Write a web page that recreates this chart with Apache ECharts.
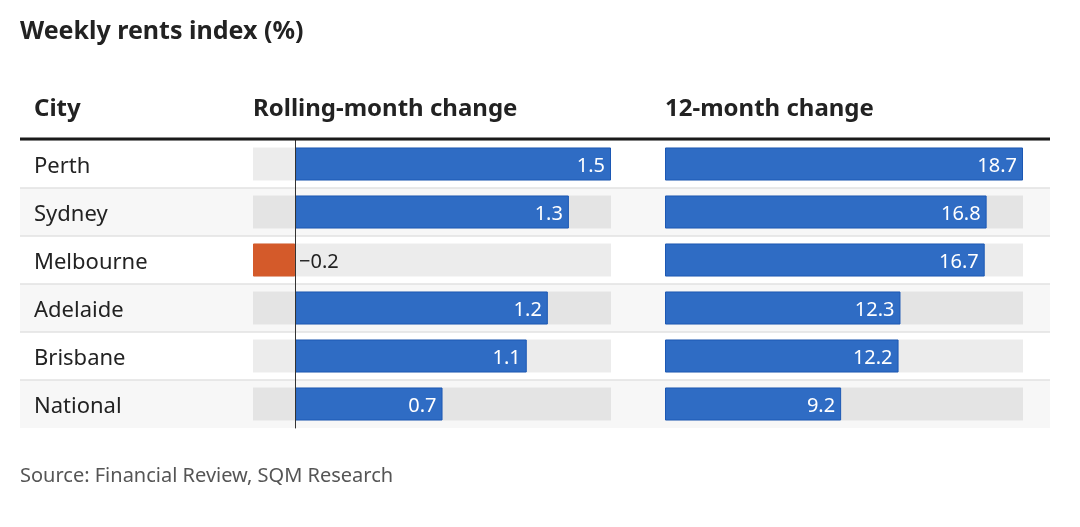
<!DOCTYPE html>
<html>
<head>
<meta charset="utf-8">
<script src="https://cdn.jsdelivr.net/npm/echarts@6/dist/echarts.min.js"></script>
<style>
html,body{margin:0;padding:0;background:#fff;}
#chart{width:1080px;height:527px;}
</style>
</head>
<body>
<div id="chart"></div>
<script>
const cities = ['Perth', 'Sydney', 'Melbourne', 'Adelaide', 'Brisbane', 'National'];
const rollingMonth = [1.5, 1.3, -0.2, 1.2, 1.1, 0.7];
const twelveMonth = [18.7, 16.8, 16.7, 12.3, 12.2, 9.2];
const headers = ['City', 'Rolling-month change', '12-month change'];
const titleText = 'Weekly rents index (%)';
const sourceText = 'Source: Financial Review, SQM Research';

const FONT = '"Noto Sans", "Open Sans", sans-serif';
const BLUE = '#2f6cc4';
const BLUE_BORDER = '#1c58b4';
const ORANGE = '#d45a2a';
const fmt = v => (v < 0 ? '\u2212' + Math.abs(v).toFixed(1) : v.toFixed(1));

function barData(arr) {
  return arr.map(v => ({
    value: v,
    itemStyle: v < 0 ? { color: ORANGE, borderColor: ORANGE } : { color: BLUE, borderColor: BLUE_BORDER },
    label: v < 0 ? { position: 'right', color: '#222', distance: 4 } : {}
  }));
}

// separator colours: one per row boundary, last (bottom edge) hidden
const sepColors = cities.map(() => '#e2e2e2').concat(['rgba(0,0,0,0)']);

const chart = echarts.init(document.getElementById('chart'), null, { renderer: 'canvas' });
const headStyle = { fontFamily: FONT, fontSize: 24, fontWeight: 'bold', color: '#222' };
const option = {
  backgroundColor: '#fff',
  animation: false,
  textStyle: { fontFamily: FONT },
  title: [
    { text: titleText, left: 20, top: 19, padding: 0, textStyle: { fontFamily: FONT, fontSize: 25, fontWeight: 'bold', color: '#222' } },
    { text: headers[0], left: 34, top: 97, padding: 0, textStyle: headStyle },
    { text: headers[1], left: 253, top: 97, padding: 0, textStyle: headStyle },
    { text: headers[2], left: 665, top: 97, padding: 0, textStyle: headStyle },
    { text: sourceText, left: 20, top: 466, padding: 0, textStyle: { fontFamily: FONT, fontSize: 20, fontWeight: 'normal', color: '#555' } }
  ],
  graphic: [
    { type: 'line', shape: { x1: 20, y1: 139, x2: 1050, y2: 139 }, style: { stroke: '#1a1a1a', lineWidth: 3 }, z: 100 }
  ],
  grid: [
    { left: 20, right: 30, top: 140, height: 288 },
    { left: 253, width: 358, top: 140, height: 288 },
    { left: 665, width: 358, top: 140, height: 288 }
  ],
  xAxis: [
    { gridIndex: 0, type: 'value', show: false, min: 0, max: 1 },
    { gridIndex: 1, type: 'value', show: false, min: -0.2, max: 1.5 },
    { gridIndex: 2, type: 'value', show: false, min: 0, max: 18.7 }
  ],
  yAxis: [
    {
      gridIndex: 0, type: 'category', data: cities, inverse: true,
      axisLine: { show: false }, axisTick: { show: false },
      axisLabel: {
        inside: true, margin: 14, fontFamily: FONT, fontSize: 22, color: '#222',
        formatter: v => '{c|' + v + '}',
        rich: { c: { fontFamily: FONT, fontSize: 22, color: '#222', padding: [5, 0, 0, 0] } }
      },
      splitArea: { show: true, areaStyle: { color: ['#ffffff', '#f7f7f7'] } },
      splitLine: { show: true, lineStyle: { color: sepColors, width: 1.5 } }
    },
    {
      gridIndex: 1, type: 'category', data: cities, inverse: true, z: 10,
      axisLine: { show: true, onZero: true, lineStyle: { color: '#333', width: 1 } },
      axisTick: { show: false }, axisLabel: { show: false }, splitLine: { show: false }
    },
    {
      gridIndex: 2, type: 'category', data: cities, inverse: true,
      axisLine: { show: false }, axisTick: { show: false }, axisLabel: { show: false }, splitLine: { show: false }
    }
  ],
  series: [
    {
      type: 'bar', xAxisIndex: 1, yAxisIndex: 1, barWidth: 33,
      data: barData(rollingMonth),
      showBackground: true, backgroundStyle: { color: 'rgba(0,0,0,0.075)' },
      itemStyle: { borderWidth: 1 },
      label: { show: true, position: 'insideRight', distance: 6, color: '#fff', fontFamily: FONT, fontSize: 20, offset: [0, 2], formatter: p => fmt(p.value) }
    },
    {
      type: 'bar', xAxisIndex: 2, yAxisIndex: 2, barWidth: 33,
      data: barData(twelveMonth),
      showBackground: true, backgroundStyle: { color: 'rgba(0,0,0,0.075)' },
      itemStyle: { borderWidth: 1 },
      label: { show: true, position: 'insideRight', distance: 6, color: '#fff', fontFamily: FONT, fontSize: 20, offset: [0, 2], formatter: p => fmt(p.value) }
    }
  ]
};
chart.setOption(option);
</script>
</body>
</html>
